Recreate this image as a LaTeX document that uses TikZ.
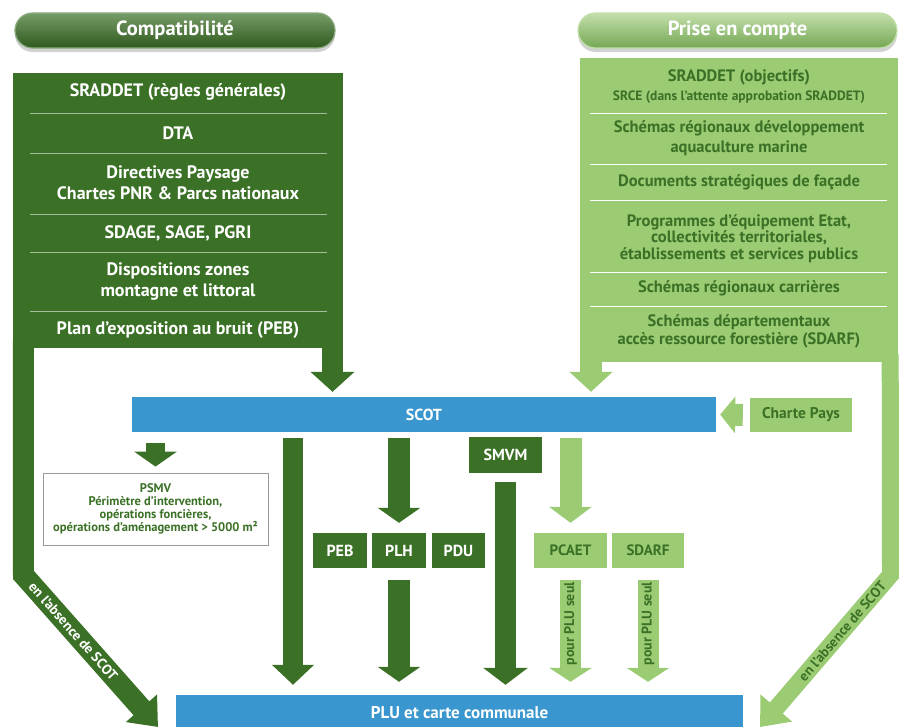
\documentclass[tikz,border=0pt]{standalone}
\usepackage{fontspec}
\setmainfont{PT Sans}
\usetikzlibrary{positioning, arrows.meta, calc, shadows}

\definecolor{dgreen}{RGB}{59,113,38}
\definecolor{lgreen}{RGB}{155,203,115}
\definecolor{sblue}{RGB}{57,150,206}
\newcommand{\fsz}[2]{\fontsize{#1}{#2}\selectfont}

\tikzset{
  pill/.style={rounded corners=17.5pt, minimum height=35pt, text=white,
    font=\bfseries\fsz{20.5}{22}, line width=1.2pt,
    drop shadow={opacity=.35, shadow xshift=0pt, shadow yshift=-4pt}},
  pilldark/.style={pill, draw=dgreen!60!white, top color=dgreen!70!white,
    middle color=dgreen, bottom color=dgreen!80!black},
  pilllight/.style={pill, draw=lgreen!60!white, top color=lgreen!60!white,
    middle color=lgreen!75!dgreen, bottom color=lgreen!60!dgreen},
  dblock/.style={fill=dgreen},
  lblock/.style={fill=lgreen},
  drow/.style={text=white, font=\bfseries\fsz{18}{21}},
  lrow/.style={text=dgreen, font=\bfseries\fsz{16.5}{18}},
  sepdark/.style={draw=white, opacity=.55, line width=.8pt},
  seplight/.style={draw=white, line width=1pt},
  bluebar/.style={fill=sblue, text=white, font=\bfseries\fsz{17}{20}},
  dbox/.style={fill=dgreen, text=white, font=\bfseries\fsz{16}{19}, minimum height=35pt},
  lbox/.style={fill=lgreen, text=dgreen, font=\bfseries\fsz{15}{18}, minimum height=35pt},
  fat/.style n args={3}{line width=#1, -{Triangle[width=#2, length=#3]}},
  darrow/.style={draw=dgreen},
  larrow/.style={draw=lgreen},
}

\begin{document}
\begin{tikzpicture}[x=1pt, y=-1pt, every node/.style={inner sep=0pt, align=center}]
\useasboundingbox (0,0) rectangle (899,726);
\fill[white] (0,0) rectangle (899,726);

% Headers
\node[pilldark, minimum width=320pt] (compat) at (175,30.5) {Compatibilité};
\node[pilllight, minimum width=319pt] (prise) at (737.5,30.5) {Prise en compte};

% Compatibilite block
\node[dblock, minimum width=330pt, minimum height=275pt] (left) at (178,210.5) {};
\node[drow] (r1) at (178,92) {SRADDET (règles générales)};
\node[drow] (r2) at (178,133) {DTA};
\node[drow] (r3) at (178,183) {Directives Paysage\\Chartes PNR \& Parcs nationaux};
\node[drow] (r4) at (178,233) {SDAGE, SAGE, PGRI};
\node[drow] (r5) at (178,282) {Dispositions zones\\montagne et littoral};
\node[drow] (r6) at (178,330) {Plan d’exposition au bruit (PEB)};
\foreach \y in {113,153,214,252,311}
  \draw[sepdark] (30,\y) -- (327,\y);

% Prise en compte block
\node[lblock, minimum width=318pt, minimum height=304pt] (right) at (739,210) {};
\node[lrow] (q1) at (739,77) {SRADDET (objectifs)};
\node[lrow, font=\bfseries\fsz{13.5}{15}] (q1b) at (739,97) {SRCE (dans l’attente approbation SRADDET)};
\node[lrow, font=\bfseries\fsz{16.5}{20}] (q2) at (739,138) {Schémas régionaux développement\\aquaculture marine};
\node[lrow] (q3) at (739,182) {Documents stratégiques de façade};
\node[lrow, font=\bfseries\fsz{16.5}{16.5}] (q4) at (739,238.5) {Programmes d’équipement Etat,\\collectivités territoriales,\\établissements et services publics};
\node[lrow] (q5) at (739,288) {Schémas régionaux carrières};
\node[lrow] (q6) at (739,331) {Schémas départementaux\\accès ressource forestière (SDARF)};
\foreach \y in {113,164,200,272,306}
  \draw[seplight] (590,\y) -- (887,\y);

% Bars
\node[bluebar, minimum width=584pt, minimum height=35pt, font=\bfseries\fsz{16}{19}] (scot) at (424,414.5) {SCOT};
\node[bluebar, minimum width=567pt, minimum height=36pt] (plu) at (459.5,713) {PLU et carte communale};

% Boxes
\node[lbox, minimum width=102pt, minimum height=34pt, font=\bfseries\fsz{15.5}{17}] (charte) at (801,415) {Charte Pays};
\node[draw=black!40, line width=.8pt, fill=white, minimum width=225pt, minimum height=72pt,
  text=dgreen, font=\bfseries\fsz{12.5}{13}] (psmv) at (155.5,509)
  {PSMV\\Périmètre d’intervention,\\opérations foncières,\\opérations d’aménagement > 5000 m²};
\node[dbox, minimum width=54pt] (peb) at (340,550.5) {PEB};
\node[dbox, minimum width=54pt] (plh) at (399,550.5) {PLH};
\node[dbox, minimum width=53pt] (pdu) at (458.5,550.5) {PDU};
\node[dbox, minimum width=73pt, minimum height=36pt] (smvm) at (505.5,455) {SMVM};
\node[lbox, minimum width=73pt] (pcaet) at (570.5,550.5) {PCAET};
\node[lbox, minimum width=72pt] (sdarf) at (648,550.5) {SDARF};

% Column positions and bends
\coordinate (xA) at (332.5,0);
\coordinate (xB) at (591,0);
\coordinate (xC) at (293,0);
\coordinate (lbend) at (23.5,575);
\coordinate (ltip) at (158,727);
\coordinate (rbend) at (890.5,575);
\coordinate (rtip) at (760,727);

% Into SCOT
\draw[darrow, fat={21pt}{43pt}{20pt}, shorten >=5pt] (left.south -| xA) -- (scot.north -| xA);
\draw[larrow, fat={22pt}{42pt}{20pt}, shorten >=5pt] (right.south -| xB) -- (scot.north -| xB);
\draw[larrow, fat={22pt}{36pt}{15pt}, shorten <=7pt, shorten >=4pt] (charte.west) -- (scot.east);

% Out of SCOT
\draw[darrow, fat={19pt}{42pt}{15pt}, shorten <=11pt, shorten >=6pt] (scot.south -| psmv) -- (psmv.north);
\draw[darrow, fat={20pt}{41pt}{20pt}, shorten <=6pt, shorten >=10pt] (scot.south -| xC) -- (plu.north -| xC);
\draw[darrow, fat={22pt}{42pt}{15pt}, shorten <=6pt, shorten >=10pt] (scot.south -| plh) -- (plh.north);
\draw[larrow, fat={22pt}{42pt}{16pt}, shorten <=6pt, shorten >=10pt] (scot.south -| pcaet) -- (pcaet.north);

% Into PLU
\draw[darrow, fat={22pt}{42pt}{15pt}, shorten <=12pt, shorten >=13pt] (plh.south) -- (plu.north -| plh);
\draw[darrow, fat={21pt}{44pt}{17pt}, shorten <=9pt, shorten >=10pt] (smvm.south) -- (plu.north -| smvm);
\draw[larrow, fat={21pt}{42pt}{14pt}, shorten <=12pt, shorten >=13pt] (pcaet.south) -- (plu.north -| pcaet)
  node[pos=.44, rotate=90, text=dgreen, font=\bfseries\fsz{14}{15}] (pl1) {pour PLU seul};
\draw[larrow, fat={21pt}{42pt}{14pt}, shorten <=12pt, shorten >=13pt] (sdarf.south) -- (plu.north -| sdarf)
  node[pos=.44, rotate=90, text=dgreen, font=\bfseries\fsz{14}{15}] (pl2) {pour PLU seul};

% Without SCOT
\draw[darrow, fat={21pt}{40pt}{25pt}, line join=miter] (left.south west) ++(10.5,-8) -- (lbend)
  -- node[pos=.37, sloped, text=white, font=\bfseries\fsz{14}{15}] (la) {en l’absence de SCOT} (ltip);
\draw[larrow, fat={17pt}{40pt}{25pt}, line join=miter] (right.south east) ++(-8,-8) -- (rbend)
  -- node[pos=.37, sloped, text=dgreen, font=\bfseries\fsz{14}{15}] (ra) {en l’absence de SCOT} (rtip);
\end{tikzpicture}
\end{document}
